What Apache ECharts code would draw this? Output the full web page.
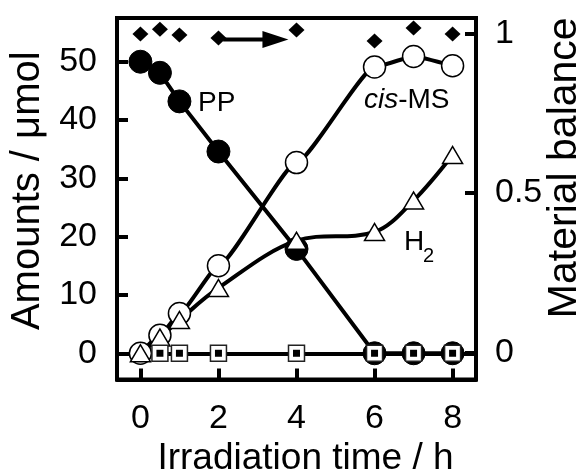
<!DOCTYPE html>
<html>
<head>
<meta charset="utf-8">
<script src="https://cdn.jsdelivr.net/npm/echarts@6/dist/echarts.min.js"></script>
<style>html,body{margin:0;padding:0;background:#fff}#c{width:584px;height:470px}</style>
</head>
<body>
<div id="c"></div>
<script>
// ---- data ----
const hours = [0, 0.5, 1, 2, 4, 6, 7, 8];
const pp = [50.0, 48.1, 43.2, 34.6, 17.9, 0, 0, 0];
const cisMS = [0, 3.1, 6.8, 15.0, 32.7, 49.1, 50.9, 49.3];
const h2 = [0, 2.7, 5.7, 11.2, 19.3, 20.8, 26.2, 34.0];
const otherHours = [0.5, 1, 2, 4, 6, 7, 8];
const other = [0, 0, 0, 0, 0, 0, 0];
const balance = [0.998, 1.013, 0.995, 0.985, 1.010, 0.976, 1.017, 0.998];
const arrowFrom = [2.12, 0.981];
const arrowTo = [3.46, 0.981];
const xTicks = [0, 2, 4, 6, 8];
const yLeftTicks = [0, 10, 20, 30, 40, 50];
const yRightTicks = [0, 0.5, 1];

const pairs = (xs, ys) => xs.map((x, i) => [x, ys[i]]);
const FONT = 'Liberation Sans, Arial, sans-serif';
const K = '#000';

const chart = echarts.init(document.getElementById('c'), null, {renderer: 'canvas'});

const axisCommon = {
  axisLine: {show: true, onZero: false, lineStyle: {color: K, width: 4}},
  axisTick: {show: true, inside: true, length: 11, lineStyle: {color: K, width: 4}},
  splitLine: {show: false},
  axisLabel: {color: K, fontFamily: FONT, fontSize: 34}
};

chart.setOption({
  animation: false,
  backgroundColor: '#fff',
  grid: {left: 117, right: 108, top: 18, bottom: 90.5, show: true, borderColor: K, borderWidth: 4,
    backgroundColor: 'transparent', containLabel: false, outerBoundsMode: 'none'},
  xAxis: Object.assign({}, axisCommon, {
    type: 'value', min: -0.6, max: 8.6,
    name: 'Irradiation time / h', nameLocation: 'middle', nameGap: 57,
    nameTextStyle: {color: K, fontFamily: FONT, fontSize: 37, padding: [0, 0, 0, 18]},
    axisTick: Object.assign({}, axisCommon.axisTick, {customValues: xTicks}),
    axisLabel: Object.assign({}, axisCommon.axisLabel, {customValues: xTicks, margin: 22})
  }),
  yAxis: [
    Object.assign({}, axisCommon, {
      type: 'value', min: -4.5, max: 57.5, position: 'left',
      name: 'Amounts / μmol', nameLocation: 'middle', nameGap: 68, nameRotate: 90,
      nameTextStyle: {color: K, fontFamily: FONT, fontSize: 40, padding: [0, 0, 0, 16]},
      axisTick: Object.assign({}, axisCommon.axisTick, {customValues: yLeftTicks}),
      axisLabel: Object.assign({}, axisCommon.axisLabel, {customValues: yLeftTicks, margin: 20})
    }),
    Object.assign({}, axisCommon, {
      type: 'value', min: -0.085, max: 1.048, position: 'right',
      name: 'Material balance', nameLocation: 'middle', nameGap: 68, nameRotate: 90, nameMoveOverlap: false,
      nameTextStyle: {color: K, fontFamily: FONT, fontSize: 41, padding: [0, 0, 0, 62]},
      axisTick: Object.assign({}, axisCommon.axisTick, {customValues: yRightTicks}),
      axisLabel: Object.assign({}, axisCommon.axisLabel, {customValues: yRightTicks, margin: 19,
        formatter: v => String(v)})
    })
  ],
  series: [
    {type: 'line', data: pairs(hours, pp), showSymbol: false, lineStyle: {color: K, width: 4}, z: 2,
      markLine: {silent: true, symbol: 'none', label: {show: false}, lineStyle: {color: K, width: 4, type: 'solid'},
        data: [{yAxis: 0}]}},
    {type: 'line', data: pairs(hours, cisMS), showSymbol: false, smooth: 0.15, smoothMonotone: 'x', lineStyle: {color: K, width: 4}, z: 2},
    {type: 'line', data: pairs(hours, h2), showSymbol: false, smooth: 0.35, lineStyle: {color: K, width: 4}, z: 2},
    {type: 'line', yAxisIndex: 1, data: [arrowFrom, arrowTo], showSymbol: false, lineStyle: {color: K, width: 4}, z: 2},
    {type: 'scatter', yAxisIndex: 1, data: [arrowTo], symbol: 'triangle', symbolRotate: -90, symbolSize: [17, 26],
      itemStyle: {color: K, opacity: 1}, z: 3},
    {type: 'scatter', name: 'PP', data: pairs(hours, pp), symbol: 'circle', symbolSize: 23,
      itemStyle: {color: K, borderColor: K, borderWidth: 1, opacity: 1}, z: 4},
    {type: 'scatter', name: 'cis-MS', data: pairs(hours, cisMS), symbol: 'circle', symbolSize: 22,
      itemStyle: {color: '#fff', borderColor: K, borderWidth: 1.5, opacity: 1}, z: 5},
    {type: 'scatter', name: 'H2', data: pairs(hours, h2), symbol: 'triangle', symbolSize: [20, 17],
      itemStyle: {color: '#fff', borderColor: K, borderWidth: 1.5, opacity: 1}, z: 6},
    {type: 'scatter', name: 'other', data: pairs(otherHours, other), symbol: 'rect', symbolSize: 16,
      itemStyle: {color: '#fff', borderColor: '#222', borderWidth: 1.5, opacity: 1}, z: 7},
    {type: 'scatter', name: 'other-in', data: pairs(otherHours, other), symbol: 'rect', symbolSize: 7,
      itemStyle: {color: K, opacity: 1}, z: 8},
    {type: 'scatter', name: 'balance', yAxisIndex: 1, data: pairs(hours, balance), symbol: 'diamond', symbolSize: [16, 15],
      itemStyle: {color: K, opacity: 1}, z: 8}
  ],
  graphic: [
    {type: 'text', left: 198, top: 89, style: {text: 'PP', fill: K, font: '28px ' + FONT}},
    {type: 'text', left: 364, top: 86, style: {text: '{i|cis}{n|-MS}', fill: K,
      rich: {i: {fontStyle: 'italic', fontSize: 28, fontFamily: FONT, fill: K}, n: {fontSize: 28, fontFamily: FONT, fill: K}}}},
    {type: 'text', left: 404, top: 228, style: {text: 'H', fill: K, font: '28px ' + FONT}},
    {type: 'text', left: 423, top: 246, style: {text: '2', fill: K, font: '20px ' + FONT}}
  ]
});
</script>
</body>
</html>
